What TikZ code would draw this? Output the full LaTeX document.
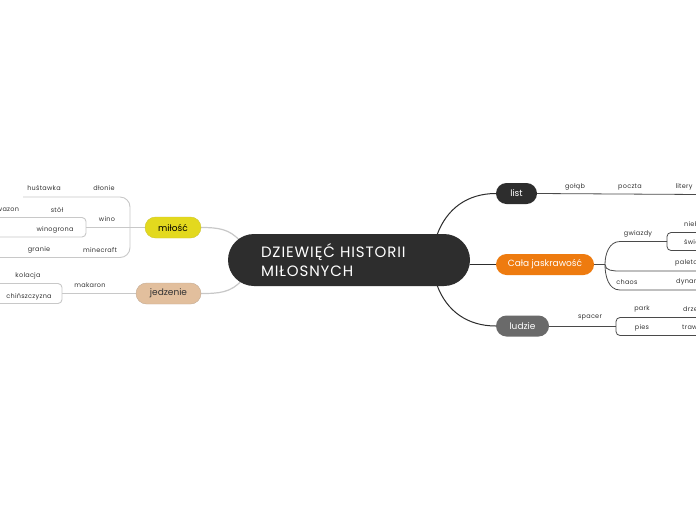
\documentclass[tikz,border=0pt]{standalone}
\usepackage{fontspec}
\setmainfont{Poppins}
\newfontfamily\labfont[LetterSpace=4]{Poppins}
\newfontfamily\centfont[LetterSpace=6]{Poppins}
\usetikzlibrary{calc}
\pgfdeclarelayer{bg}
\pgfsetlayers{bg,main}
\definecolor{dark}{HTML}{2D2D2D}
\definecolor{orng}{HTML}{EE7B0F}
\definecolor{grayn}{HTML}{6A6A6A}
\definecolor{yel}{HTML}{E3D91E}
\definecolor{peach}{HTML}{E2BF9D}
\definecolor{labc}{HTML}{333333}
\definecolor{lline}{HTML}{C8C8C8}
\definecolor{rline}{HTML}{4A4A4A}
\tikzset{
  centralbox/.style={fill=dark, rounded corners=26pt, minimum width=242pt, minimum height=52pt,
    text width=176pt, align=left, text=white, inner sep=0pt, font=\centfont\fontsize{15}{19}\selectfont},
  topic/.style={rounded corners=10.5pt, minimum height=21pt, inner sep=0pt, font=\fontsize{9}{10}\selectfont},
  lab/.style={font=\labfont\fontsize{6.5}{8}\selectfont, text=labc, inner sep=0pt},
  mainconn/.style={draw=dark, line width=1pt},
  leftconn/.style={draw=lline, line width=1.2pt},
  rsub/.style={draw=rline, line width=0.8pt},
  lsub/.style={draw=lline, line width=0.9pt},
}
\begin{document}
\begin{tikzpicture}[x=1pt,y=-1pt]
\useasboundingbox (0,0) rectangle (696,520);
\clip (0,0) rectangle (696,520);

% central
\node[centralbox] (c) at (349,260) {DZIEWIĘĆ HISTORII\\MIŁOSNYCH};

% main topics
\node[topic, fill=dark, text=white, minimum width=41pt] (list) at (516.5,193.5) {list};
\node[topic, fill=orng, text=white, minimum width=98pt] (cj) at (545,264.5) {Cała jaskrawość};
\node[topic, fill=grayn, text=white, minimum width=53pt] (lu) at (522.5,326) {ludzie};
\node[topic, fill=yel, draw=yel!80!gray, text=black, minimum width=56pt] (mi) at (173,227.5) {miłość};
\node[topic, fill=peach, draw=peach!70!gray, text=labc, minimum width=65pt] (je) at (168.5,293.5) {jedzenie};

% coordinates
\coordinate (cTop) at (437,235);
\coordinate (cBot) at (437,285);
\coordinate (cL1) at (240,241);
\coordinate (cL2) at (242,280);
\coordinate (listEnd) at (700,194.5);
\coordinate (J) at (605,264.5);
\coordinate (gwA) at (620,241.5);
\coordinate (gwB) at (667,241.5);
\coordinate (paA) at (620,271);
\coordinate (paB) at (700,271);
\coordinate (chA) at (620,290);
\coordinate (chB) at (700,290);
\coordinate (luJ) at (616,326);
\coordinate (miJ) at (86,227.5);
\coordinate (jeJ) at (62,293.5);

% labels right
\node[lab] (golab) at (575,187) {gołąb};
\node[lab] (poczta) at (630,187) {poczta};
\node[lab] (litery) at (684,187) {litery};
\node[lab] (gwiazdy) at (638,234) {gwiazdy};
\node[lab, anchor=west] (niebo) at (684,224) {niebo};
\node[lab, anchor=west] (swiatlo) at (684,242) {światło};
\node[lab, anchor=west] (paleta) at (675,263) {paleta};
\node[lab] (chaos) at (627,282) {chaos};
\node[lab, anchor=west] (dynamika) at (676,282) {dynamika};
\node[lab] (spacer) at (590,318) {spacer};
\node[lab] (park) at (642,309) {park};
\node[lab, anchor=west] (drzewa) at (683,309) {drzewa};
\node[lab] (pies) at (642,327.5) {pies};
\node[lab, anchor=west] (trawa) at (682,327.5) {trawa};

% labels left
\node[lab] (hustawka) at (44,188) {huśtawka};
\node[lab] (dlonie) at (104,188) {dłonie};
\node[lab] (wazon) at (8,210) {wazon};
\node[lab] (stol) at (57,210) {stół};
\node[lab] (wino) at (107,219) {wino};
\node[lab] (winogrona) at (55,229.5) {winogrona};
\node[lab] (granie) at (39,250) {granie};
\node[lab] (minecraft) at (100,250) {minecraft};
\node[lab] (makaron) at (90,285) {makaron};
\node[lab] (kolacja) at (28,276) {kolacja};
\node[lab] (chinsz) at (29,297) {chińszczyzna};

\begin{pgfonlayer}{bg}
\fill[white] (0,0) rectangle (696,520);
% main connectors
\draw[mainconn] (cTop) to[out=70,in=180] (list.west);
\draw[mainconn] (c.east |- cj.west) -- (cj.west);
\draw[mainconn] (cBot) to[out=-70,in=180] (lu.west);
\draw[leftconn] (mi.east) to[out=0,in=130] (cL1);
\draw[leftconn] (je.east) to[out=0,in=-130] (cL2);

% list branch
\draw[rsub] (list.east) -- (listEnd);

% Cala branch
\draw[rsub, line width=1.2pt] (cj.east) -- (J);
\draw[rsub] (J) to[out=90,in=180] (gwA) -- (gwB);
\draw[rsub] (J) to[out=-90,in=180] (paA) -- (paB);
\draw[rsub] (J) to[out=-90,in=180] (chA) -- (chB);
\draw[rsub, rounded corners=4pt] (700,232.5) -- (gwB |- 0,232.5) -- (gwB |- 0,250.5) -- (700,250.5);

% ludzie branch
\draw[rsub] (lu.east) -- (luJ);
\draw[rsub, rounded corners=4pt] (700,317.5) -- (luJ |- 0,317.5) -- (luJ |- 0,335.5) -- (700,335.5);

% milosc branch
\draw[lsub] (mi.west) -- (miJ);
\draw[lsub, rounded corners=10pt] (23,197) -- (130,197) -- (130,257.5) -- (-5,257.5);
\draw[lsub, rounded corners=4pt] (-5,217.5) -- (miJ |- 0,217.5) -- (miJ |- 0,237) -- (-5,237);

% jedzenie branch
\draw[lsub, line width=1.5pt] (je.west) -- (jeJ);
\draw[lsub, rounded corners=4pt] (-5,283.5) -- (jeJ |- 0,283.5) -- (jeJ |- 0,303.5) -- (-5,303.5);
\end{pgfonlayer}
\end{tikzpicture}
\end{document}
